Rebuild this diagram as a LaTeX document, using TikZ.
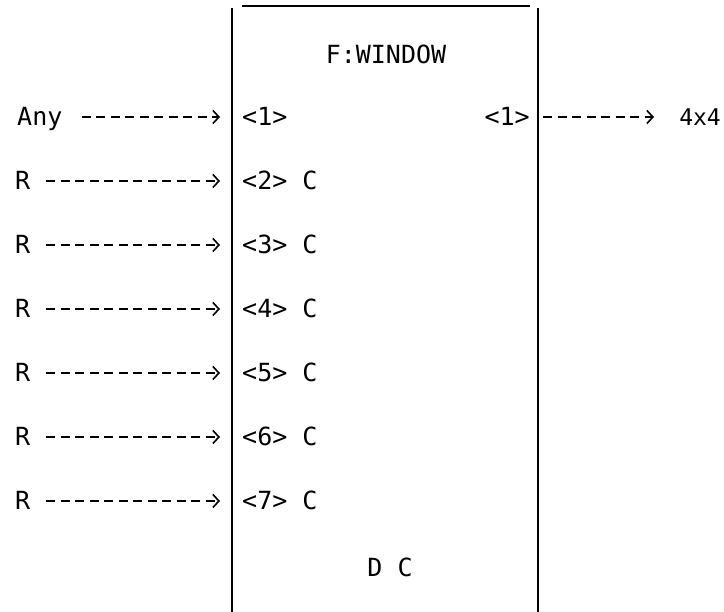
\documentclass[tikz,border=0pt]{standalone}
\usepackage{fontspec}
\setmonofont{DejaVu Sans Mono}
\usetikzlibrary{arrows.meta}
\begin{document}
\begin{tikzpicture}[x=1pt,y=-1pt,
  lbl/.style={font=\ttfamily\fontsize{25}{30}\selectfont, inner sep=0pt, text height=18pt, text depth=0pt},
  conn/.style={line width=1.6pt, dash pattern=on 9pt off 5.5pt, -{Straight Barb[length=6pt,width=13pt,line width=1.6pt]}},
  boxline/.style={line width=1.8pt}]
\useasboundingbox (0,0) rectangle (724,612);
\fill[white] (0,0) rectangle (724,612);
% box
\draw[boxline] (232,8) -- (232,612);
\draw[boxline] (538,8) -- (538,612);
\draw[line width=1.4pt] (242,6) -- (530,6);
\node[lbl] (title) at (386,55) {F:WINDOW};
\node[lbl] (dc) at (390,568) {D C};
% inputs
\node[lbl, anchor=west] (in1) at (17,117) {Any};
\node[lbl, anchor=west] (p1) at (242,117) {<1>};
\foreach \i/\y in {2/181,3/245,4/309,5/373,6/437,7/501}{
  \node[lbl, anchor=west] (in\i) at (15,\y) {R};
  \node[lbl, anchor=west] (p\i) at (242,\y) {<\i> C};
}
\draw[conn, shorten <=19pt, shorten >=22pt] (in1.east) -- (p1.west);
\foreach \i in {2,...,7}{
  \draw[conn, shorten <=16pt, shorten >=22pt] (in\i.east) -- (p\i.west);
}
% output
\node[lbl, anchor=east] (q1) at (530,117) {<1>};
\node[lbl, anchor=east, font=\ttfamily\fontsize{23}{28}\selectfont] (out) at (721,117) {4x4};
\coordinate (oend) at (654,117);
\draw[conn, shorten <=13pt] (q1.east) -- (oend);
\end{tikzpicture}
\end{document}
